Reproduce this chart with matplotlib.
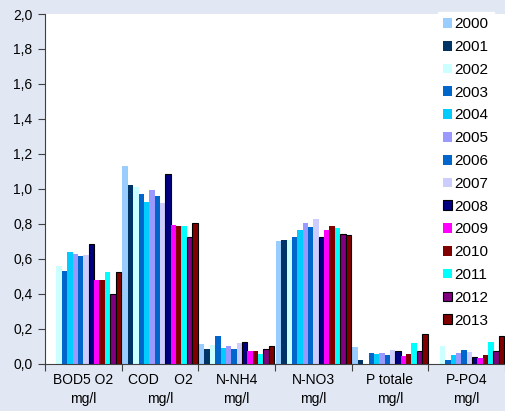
import numpy as np
import matplotlib
matplotlib.use("Agg")
import matplotlib.pyplot as plt
from matplotlib.ticker import FuncFormatter

plt.rcParams['font.family'] = ['Liberation Sans', 'DejaVu Sans']

categories = ['BOD5 O2\nmg/l', 'COD    O2\nmg/l', 'N-NH4\nmg/l',
              'N-NO3\nmg/l', 'P totale\nmg/l', 'P-PO4\nmg/l']
years = ['2000', '2001', '2002', '2003', '2004', '2005', '2006',
         '2007', '2008', '2009', '2010', '2011', '2012', '2013']

# one list per parameter, one value per year (None = no data)
bod5 = [None, None, 0.56, 0.53, 0.64, 0.625, 0.615, 0.62, 0.685, 0.478, 0.478, 0.524, 0.40, 0.522]
cod = [1.13, 1.02, 1.01, 0.97, 0.925, 0.99, 0.958, 0.917, 1.083, 0.793, 0.785, 0.785, 0.722, 0.806]
nh4 = [0.11, 0.085, 0.106, 0.156, 0.089, 0.10, 0.081, 0.119, 0.125, 0.07, 0.07, 0.054, 0.085, 0.10]
no3 = [0.701, 0.709, 0.705, 0.722, 0.763, 0.802, 0.781, 0.829, 0.722, 0.764, 0.785, 0.775, 0.743, 0.733]
ptot = [0.094, 0.022, None, 0.06, 0.052, 0.06, 0.05, 0.077, 0.07, 0.045, 0.054, 0.119, 0.07, 0.167]
po4 = [None, None, 0.098, 0.018, 0.05, 0.058, 0.079, 0.066, 0.037, 0.031, 0.049, 0.121, 0.071, 0.156]

colors = ['#99ccff', '#003366', '#ccffff', '#0066cc', '#00ccff', '#9999ff', '#0066cc',
          '#ccccff', '#000080', '#ff00ff', '#800000', '#00ffff', '#800080', '#800000']
edges = ['none'] * 8 + ['black', 'none', 'none', 'none', 'black', 'black']

data = np.array([bod5, cod, nh4, no3, ptot, po4], dtype=float)

fig = plt.figure(figsize=(5.05, 4.11), dpi=100, facecolor='#e1e8f4')
ax = fig.add_axes([45 / 505, 47.5 / 411, 460 / 505, 349.5 / 411])
ax.set_facecolor('white')

x = np.arange(len(categories))
w = 0.07
for k, yr in enumerate(years):
    pos = x + 0.5 + (k - 6.5) * w
    ax.bar(pos, data[:, k], width=w, color=colors[k], label=yr,
           edgecolor=edges[k], linewidth=0.8 if edges[k] != 'none' else 0)

ax.set_xlim(0, len(categories))
ax.set_ylim(0, 2.0)
ax.set_yticks(np.arange(0, 2.01, 0.2))
ax.yaxis.set_major_formatter(FuncFormatter(lambda v, p: f'{v:.1f}'.replace('.', ',')))
ax.set_xticks(np.arange(len(categories) + 1))
ax.set_xticklabels([])
ax.set_xticks(x + 0.5, minor=True)
ax.set_xticklabels(categories, minor=True, linespacing=1.45)
ax.tick_params(axis='x', which='minor', length=0, pad=7, labelsize=10)
ax.tick_params(axis='x', which='major', length=5, color='#404040')
ax.tick_params(axis='y', length=5, color='#404040', labelsize=10, pad=4)

for s in ['top', 'right']:
    ax.spines[s].set_visible(False)
for s in ['left', 'bottom']:
    ax.spines[s].set_color('#404040')

leg = ax.legend(loc='upper right', bbox_to_anchor=(494 / 505, 1 - 12 / 411),
                bbox_transform=fig.transFigure, frameon=True,
                fancybox=False, edgecolor='white', facecolor='white', framealpha=1,
                fontsize=11, handlelength=0.6, handleheight=0.6, handletextpad=0.15,
                labelspacing=0.575, borderpad=0.35, borderaxespad=0.0)

fig.savefig('out.png', dpi=100, facecolor=fig.get_facecolor())
